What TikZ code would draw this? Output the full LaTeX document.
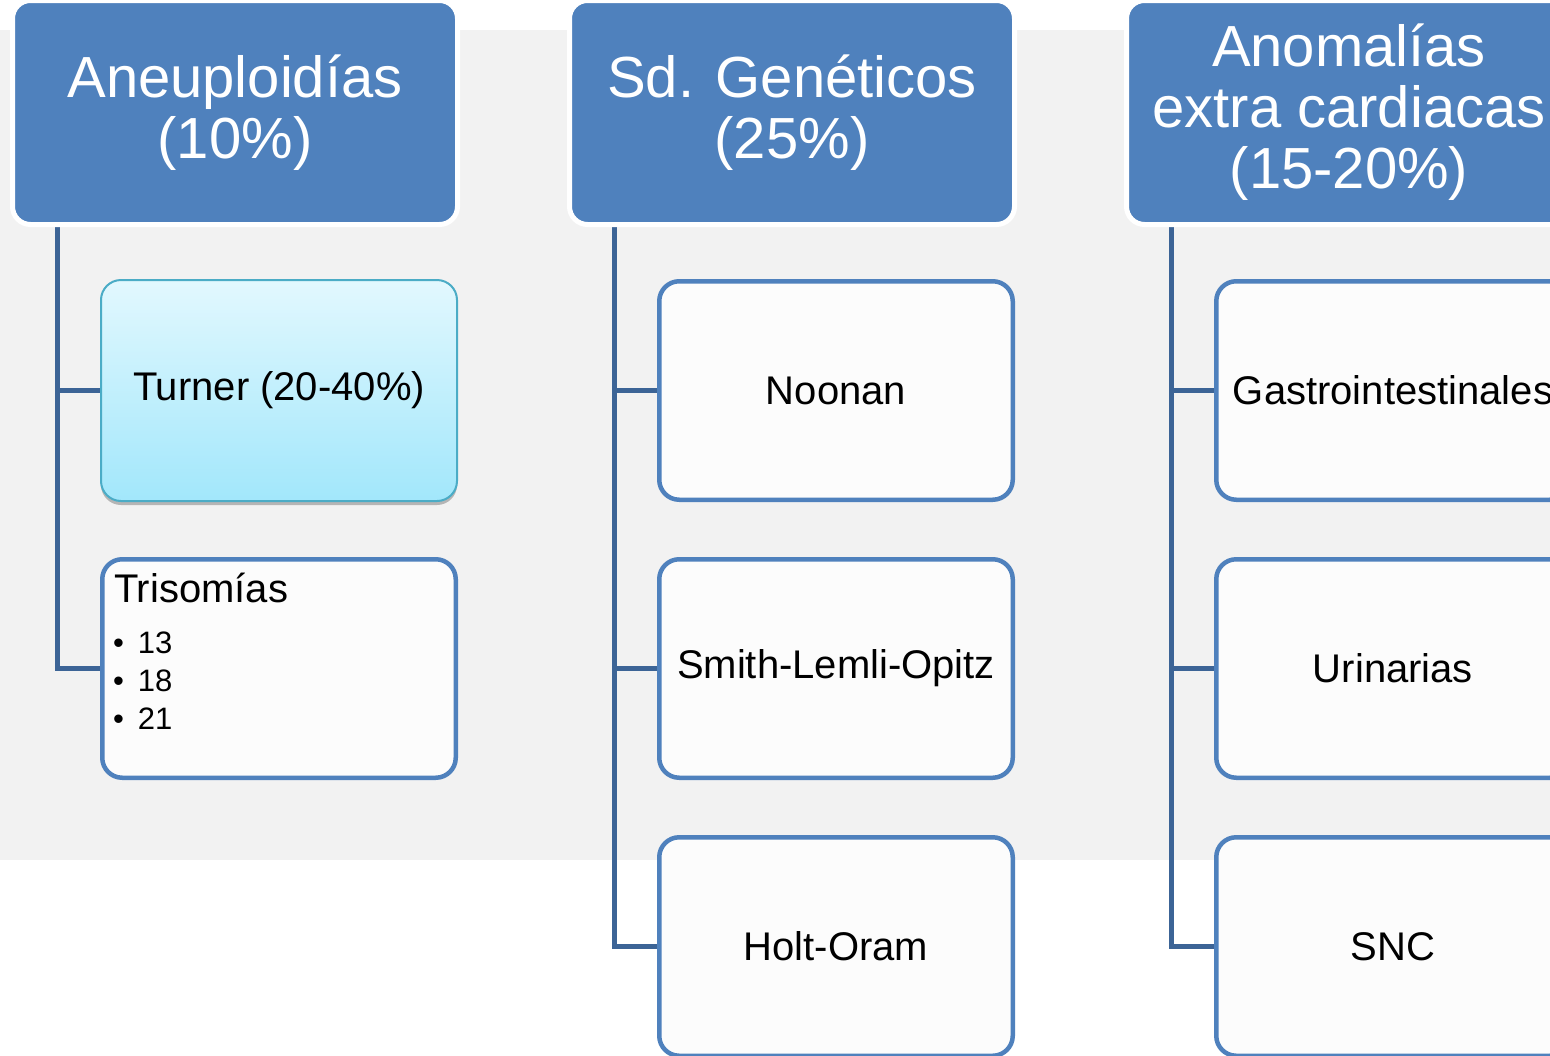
\documentclass[tikz,border=0pt]{standalone}
\usepackage{fontspec}
\setmainfont{Liberation Sans}
\usetikzlibrary{shadows,calc}
\definecolor{hdrblue}{HTML}{4F81BD}
\definecolor{kidblue}{HTML}{4F81BD}
\definecolor{kidfill}{HTML}{FCFCFC}
\definecolor{connblue}{HTML}{3C6496}
\definecolor{turnerline}{HTML}{4BACC6}
\definecolor{turnertop}{HTML}{E2F8FE}
\definecolor{turnerbot}{HTML}{A2E7FB}
\definecolor{panel}{HTML}{F2F2F2}
\pgfdeclarelayer{bg}
\pgfsetlayers{bg,main}
\begin{document}
\begin{tikzpicture}[x=1pt,y=-1pt,
  hdr/.style={draw=white, line width=5pt, fill=hdrblue, rounded corners=18pt,
    minimum width=445pt, minimum height=224pt, inner sep=0pt, outer sep=0pt,
    text=white, align=center, font=\fontsize{58}{61}\selectfont},
  kid/.style={draw=kidblue, line width=4.5pt, fill=kidfill, rounded corners=20pt,
    minimum width=353.5pt, minimum height=218.5pt, inner sep=0pt, outer sep=0pt,
    font=\fontsize{40}{46}\selectfont},
  turnerbox/.style={draw=turnerline, line width=2pt, top color=turnertop,
    bottom color=turnerbot, rounded corners=20pt,
    minimum width=356pt, minimum height=221pt, inner sep=0pt, outer sep=0pt,
    font=\fontsize{40}{46}\selectfont,
    drop shadow={shadow xshift=0pt, shadow yshift=-4pt, opacity=0.25, fill=black}},
  conn/.style={draw=connblue, line width=5pt},
  txt/.style={anchor=base west, inner sep=0pt, outer sep=0pt},
]
\useasboundingbox (0,0) rectangle (1550,1055);
\clip (0,0) rectangle (1550,1055);

% headers
\node[hdr] (h1) at (235,112.5) {Aneuploidías\\(10\%)};
\node[hdr] (h2) at (792,112.5) {Sd. Genéticos\\(25\%)};
\node[hdr] (h3) at (1349,112.5) {Anomalías\\extra cardiacas\\(15-20\%)};

% column 1
\node[turnerbox] (c11) at (279,390.5) {Turner (20-40\%)};
\node[kid] (c12) at (279,668.5) {};
\node[txt, font=\fontsize{40}{46}\selectfont] (t12) at (114,602) {Trisomías};
\node[txt, font=\fontsize{31}{38}\selectfont] (b1) at (113,653) {\makebox[25pt][l]{•}13};
\node[txt, font=\fontsize{31}{38}\selectfont] (b2) at (113,691) {\makebox[25pt][l]{•}18};
\node[txt, font=\fontsize{31}{38}\selectfont] (b3) at (113,729) {\makebox[25pt][l]{•}21};

% column 2
\node[kid] (c21) at (836,390.5) {Noonan};
\node[kid] (c22) at (836,668.5) {Smith-Lemli-Opitz};
\node[kid] (c23) at (836,946.5) {Holt-Oram};

% column 3
\node[kid] (c31) at (1393,390.5) {Gastrointestinales};
\node[kid] (c32) at (1393,668.5) {Urinarias};
\node[kid] (c33) at (1393,946.5) {SNC};

\coordinate (v1) at ([xshift=44.5pt]h1.south west);
\coordinate (v2) at ([xshift=44.5pt]h2.south west);
\coordinate (v3) at ([xshift=44.5pt]h3.south west);

\begin{pgfonlayer}{bg}
  \fill[panel] (0,30) rectangle (1550,860);
  \draw[conn] (v1) |- (c11.west);
  \draw[conn] (v1) |- (c12.west);
  \draw[conn] (v2) |- (c21.west);
  \draw[conn] (v2) |- (c22.west);
  \draw[conn] (v2) |- (c23.west);
  \draw[conn] (v3) |- (c31.west);
  \draw[conn] (v3) |- (c32.west);
  \draw[conn] (v3) |- (c33.west);
\end{pgfonlayer}
\end{tikzpicture}
\end{document}
